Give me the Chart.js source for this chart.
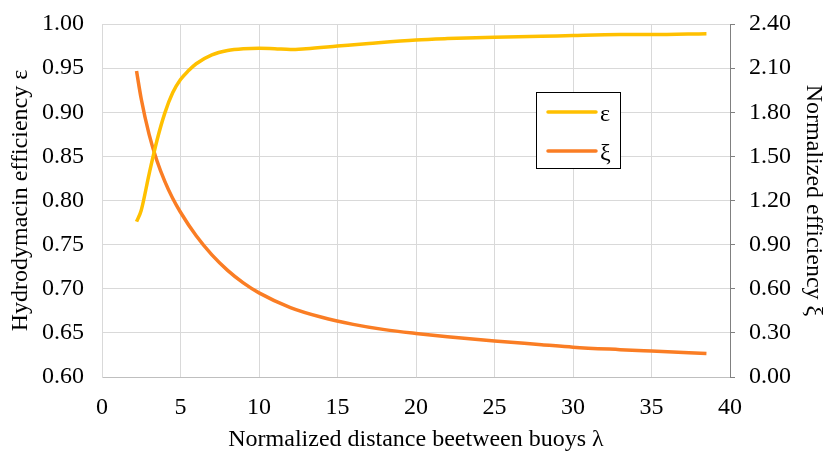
<!DOCTYPE html>
<html>
<head>
<meta charset="utf-8">
<script src="https://cdn.jsdelivr.net/npm/chart.js@4/dist/chart.umd.min.js"></script>
<style>
  html, body { margin: 0; padding: 0; background: #fff; }
  #wrap { width: 829px; height: 452px; }
</style>
</head>
<body>
<div id="wrap"><canvas id="chart"></canvas></div>
<script>
// ── data ──────────────────────────────────────────────
const lambdaEps = [2.2, 2.5, 3, 3.5, 4, 4.5, 5, 5.5, 6, 7, 8, 9, 10, 11, 12, 13, 15, 17, 20, 22, 25, 28, 30, 33, 35, 38.5];
const epsValues = [0.776, 0.789, 0.830, 0.868, 0.899, 0.922, 0.937, 0.947, 0.955, 0.965, 0.970, 0.972, 0.9725, 0.972, 0.971, 0.972, 0.975, 0.978, 0.982, 0.9835, 0.985, 0.986, 0.987, 0.988, 0.988, 0.989];

const lambdaXi = [2.2, 2.5, 3, 3.5, 4, 4.5, 5, 6, 7, 8, 9, 10, 12, 14, 16, 18, 20, 22, 25, 28, 30, 33, 35, 38.5];
const xiValues = [2.08, 1.89, 1.65, 1.47, 1.33, 1.215, 1.12, 0.96, 0.83, 0.725, 0.64, 0.572, 0.472, 0.406, 0.358, 0.322, 0.296, 0.274, 0.245, 0.22, 0.203, 0.186, 0.176, 0.159];

const seriesNames = ['ε', 'ξ'];
const seriesColours = ['#FFC000', '#FA7D24'];

const xTicks = [0, 5, 10, 15, 20, 25, 30, 35, 40];
const leftTicks = [0.60, 0.65, 0.70, 0.75, 0.80, 0.85, 0.90, 0.95, 1.00];
const rightTicks = [0.00, 0.30, 0.60, 0.90, 1.20, 1.50, 1.80, 2.10, 2.40];

const serif = "'Liberation Serif', 'Times New Roman', serif";
const fontSize = 24;

// ── legend box inside the plot ────────────────────────
const boxLegend = {
    id: 'boxLegend',
    afterDraw(chart) {
        const { ctx } = chart;
        const x0 = 536, y0 = 92, w = 84, h = 76;
        ctx.save();
        ctx.fillStyle = '#fff';
        ctx.fillRect(x0, y0, w, h);
        ctx.strokeStyle = '#000';
        ctx.lineWidth = 1;
        ctx.strokeRect(x0 + 0.5, y0 + 0.5, w, h);
        chart.data.datasets.forEach((ds, i) => {
            const y = y0 + 20 + i * 39;
            ctx.strokeStyle = ds.borderColor;
            ctx.lineWidth = 3.5;
            ctx.lineCap = 'round';
            ctx.beginPath();
            ctx.moveTo(x0 + 12, y);
            ctx.lineTo(x0 + 60, y);
            ctx.stroke();
            ctx.fillStyle = '#000';
            ctx.font = fontSize + 'px ' + serif;
            ctx.textBaseline = 'middle';
            ctx.fillText(ds.label, x0 + 64, y + 3);
        });
        ctx.restore();
    }
};

// fixed scale boxes so the plot area sits where the reference has it
const fitY = width => s => {
    s.width = width;
    s.paddingTop = 0;
    s.paddingBottom = 0;
};

new Chart(document.getElementById('chart'), {
    type: 'line',
    data: {
        datasets: [{
            label: seriesNames[0],
            data: lambdaEps.map((x, i) => ({ x, y: epsValues[i] })),
            borderColor: seriesColours[0],
            borderWidth: 3.5,
            pointRadius: 0,
            cubicInterpolationMode: 'monotone',
            yAxisID: 'y'
        }, {
            label: seriesNames[1],
            data: lambdaXi.map((x, i) => ({ x, y: xiValues[i] })),
            borderColor: seriesColours[1],
            borderWidth: 3.5,
            pointRadius: 0,
            cubicInterpolationMode: 'monotone',
            yAxisID: 'y2'
        }]
    },
    options: {
        responsive: true,
        maintainAspectRatio: false,
        animation: false,
        layout: { padding: { top: 24, right: 0, left: 0, bottom: 0 } },
        plugins: {
            legend: { display: false },
            tooltip: { enabled: false }
        },
        scales: {
            x: {
                type: 'linear',
                min: 0,
                max: 40,
                afterBuildTicks: s => { s.ticks = xTicks.map(v => ({ value: v })); },
                afterFit: s => { s.height = 75; },
                grid: { color: '#d9d9d9', drawTicks: false },
                border: { color: '#bfbfbf' },
                ticks: { color: '#000', padding: 16, font: { family: serif, size: fontSize } },
                title: { display: true, text: 'Normalized distance beetween buoys λ', color: '#000', padding: { top: 0, bottom: -2 }, font: { family: serif, size: fontSize } }
            },
            y: {
                position: 'left',
                min: 0.60,
                max: 1.00,
                afterBuildTicks: s => { s.ticks = leftTicks.map(v => ({ value: v })); },
                afterFit: fitY(102),
                grid: { color: '#d9d9d9', drawTicks: false },
                border: { color: '#d9d9d9' },
                ticks: { color: '#000', padding: 18, callback: v => v.toFixed(2), font: { family: serif, size: fontSize } },
                title: { display: true, text: 'Hydrodymacin efficiency ε', color: '#000', padding: { top: 6, bottom: 0 }, font: { family: serif, size: fontSize } }
            },
            y2: {
                position: 'right',
                min: 0,
                max: 2.4,
                afterBuildTicks: s => { s.ticks = rightTicks.map(v => ({ value: v })); },
                afterFit: fitY(99),
                grid: { drawOnChartArea: false, drawTicks: true, tickLength: 5, color: '#808080' },
                border: { color: '#808080' },
                ticks: { color: '#000', padding: 14, callback: v => v.toFixed(2), font: { family: serif, size: fontSize } },
                title: { display: true, text: 'Normalized efficiency ξ', color: '#000', padding: { top: 1, bottom: 0 }, font: { family: serif, size: fontSize } }
            }
        }
    },
    plugins: [boxLegend]
});
</script>
</body>
</html>
